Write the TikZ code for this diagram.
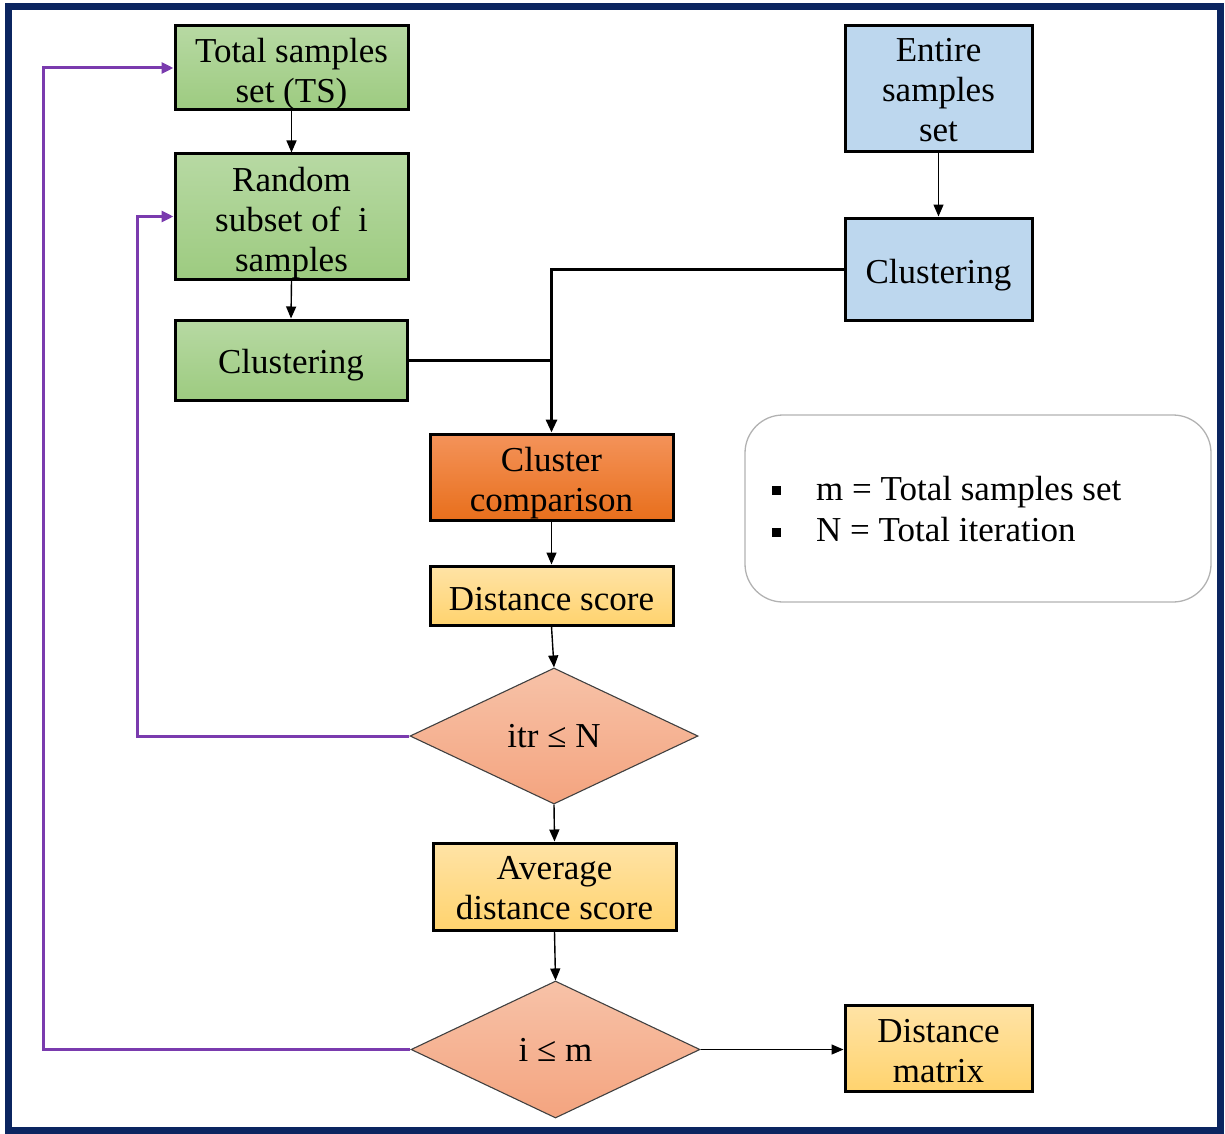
\documentclass[tikz,border=0pt]{standalone}
\usepackage{fontspec}
\setmainfont{Liberation Serif}
\usetikzlibrary{shapes.geometric,arrows.meta}
\definecolor{navy}{HTML}{0B2560}
\definecolor{gtop}{HTML}{B7D9A3}
\definecolor{gbot}{HTML}{9DCB80}
\definecolor{bluebox}{HTML}{BDD7EE}
\definecolor{otop}{HTML}{F4935A}
\definecolor{obot}{HTML}{E86F1C}
\definecolor{ytop}{HTML}{FFE3A6}
\definecolor{ybot}{HTML}{FFD36E}
\definecolor{stop}{HTML}{F7C2A8}
\definecolor{sbot}{HTML}{F4A47F}
\definecolor{purp}{HTML}{7A3BAE}
\newcommand\bxtext[2][5pt]{\raisebox{-#1}[\height][\depth]{\begin{tabular}{@{}c@{}}#2\end{tabular}}}
\tikzset{
  box/.style={draw=black, line width=3pt, inner sep=0pt, align=center,
    font=\fontsize{35}{40}\selectfont},
  greenbox/.style={box, top color=gtop, bottom color=gbot},
  bluebx/.style={box, fill=bluebox},
  orangebox/.style={box, top color=otop, bottom color=obot},
  yellowbox/.style={box, top color=ytop, bottom color=ybot},
  decision/.style={diamond, draw=black!75, line width=1.1pt, inner sep=0pt,
    top color=stop, bottom color=sbot, font=\fontsize{35}{40}\selectfont},
  flow/.style={draw=black, line width=1.4pt, -{Triangle[length=12pt,width=10pt]}},
  thickflow/.style={draw=black, line width=3pt, -{Triangle[length=13pt,width=11pt]}},
  loop/.style={draw=purp, line width=3pt, -{Triangle[length=12pt,width=11pt]}},
}
\begin{document}
\begin{tikzpicture}[x=1pt,y=-1pt]
\useasboundingbox (0,0) rectangle (1225,1134);
\draw[navy, line width=6.5pt] (8.5,6.5) rectangle (1220.5,1130.5);

\node[greenbox, minimum width=233pt, minimum height=84pt] (ts) at (291.5,68) {\bxtext[7pt]{Total samples\\set (TS)}};
\node[greenbox, minimum width=233pt, minimum height=125pt] (rand) at (291.5,216.5) {\bxtext[6.5pt]{Random\\subset of~ i\\samples}};
\node[greenbox, minimum width=232pt, minimum height=80pt] (clg) at (291,360) {\bxtext{Clustering}};
\node[bluebx, minimum width=187pt, minimum height=126pt] (ent) at (938.5,89) {\bxtext[5pt]{Entire\\samples\\set}};
\node[bluebx, minimum width=187pt, minimum height=102pt] (clb) at (938.5,269) {\bxtext[6pt]{Clustering}};
\node[orangebox, minimum width=243pt, minimum height=86pt] (cc) at (551.5,477) {\bxtext[6pt]{Cluster\\comparison}};
\node[yellowbox, minimum width=243pt, minimum height=59pt] (ds) at (551.5,595.5) {\bxtext[6.5pt]{Distance score}};
\node[decision, minimum width=288pt, minimum height=136pt] (d1) at (554,736) {itr ≤ N};
\node[yellowbox, minimum width=243pt, minimum height=87pt] (avg) at (554.5,886.5) {\bxtext[5pt]{Average\\distance score}};
\node[decision, minimum width=289pt, minimum height=137pt] (d2) at (555.5,1049.5) {i ≤ m};
\node[yellowbox, minimum width=187pt, minimum height=86pt] (dm) at (938.5,1048) {\bxtext[6pt]{Distance\\matrix}};

\node[draw=black!30, line width=1.3pt, rounded corners=38pt, minimum width=466pt, minimum height=187pt] (leg) at (978,508.5) {};
\node[anchor=west, inner sep=0pt, font=\fontsize{35}{40}\selectfont] (l1) at (772,492) {\raisebox{5pt}{\rule{9pt}{9pt}}\hspace{35pt}m = Total samples set};
\node[anchor=west, inner sep=0pt, font=\fontsize{35}{40}\selectfont] (l2) at (772,530) {\raisebox{5pt}{\rule{9pt}{9pt}}\hspace{35pt}N = Total iteration};

\draw[flow] (ts.south) -- (rand.south |- ts.south) -- (rand.north);
\draw[flow] (rand.south) -- (clg.north);
\draw[flow] (ent.south) -- (clb.north);
\draw[thickflow] (clb.west) -| (cc.north);
\draw[draw=black, line width=3pt] (clg.east) -- (clg.east -| cc.north);
\draw[flow] (cc.south) -- (ds.north);
\draw[flow] (ds.south) -- (d1.north);
\draw[flow] (d1.south) -- (avg.north);
\draw[flow] (avg.south) -- (d2.north);
\draw[flow] (d2.east) -- (d2.east -| dm.west);

\coordinate (p1) at (137,736);
\coordinate (p2) at (43,1049.5);
\draw[loop] (d1.west) -- (p1) |- (rand.west);
\draw[loop] (d2.west) -- (p2) |- (ts.west);
\end{tikzpicture}
\end{document}
